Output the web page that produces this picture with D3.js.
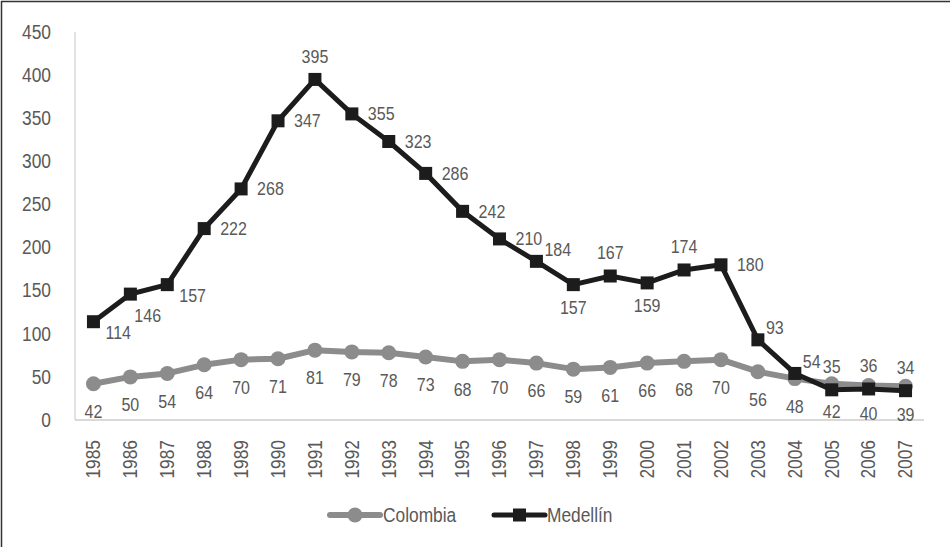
<!DOCTYPE html>
<html>
<head>
<meta charset="utf-8">
<script src="https://cdn.jsdelivr.net/npm/d3@7"></script>
<style>
  body { margin: 0; background: #fff; }
  text { font-family: "Liberation Sans", Arial, sans-serif; fill: #595959; }
</style>
</head>
<body>
<svg id="chart" width="950" height="547"></svg>
<script>
var years = ["1985","1986","1987","1988","1989","1990","1991","1992","1993","1994","1995","1996",
             "1997","1998","1999","2000","2001","2002","2003","2004","2005","2006","2007"];
var colombia = [42,50,54,64,70,71,81,79,78,73,68,70,66,59,61,66,68,70,56,48,42,40,39];
var medellin = [114,146,157,222,268,347,395,355,323,286,242,210,184,157,167,159,174,180,93,54,35,36,34];
// where each Medellín label sits relative to its point
var medLabelPos = ["rb","br","rb","r","r","r","t","r","r","r","r","r","tr","b","t","b","t","r","tr","tr","t","t","t"];
var yTicks = [0,50,100,150,200,250,300,350,400,450];
var seriesNames = ["Colombia", "Medellín"];

// the original font is a narrow one, squeeze the glyphs a bit
var squeeze = 0.89;
function narrow(sel, extra) {
  sel.each(function () {
    var t = d3.select(this);
    var xv = +t.attr("x") || 0;
    t.attr("x", xv / squeeze)
      .attr("transform", (extra || "") + " scale(" + squeeze + ",1)");
  });
}

var svg = d3.select("#chart");

// frame (only top and left edges show)
svg.append("line")
  .attr("x1", 1).attr("x2", 950).attr("y1", 1.5).attr("y2", 1.5)
  .attr("stroke", "#333").attr("stroke-width", 1.5);
svg.append("line")
  .attr("x1", 1.5).attr("x2", 1.5).attr("y1", 1).attr("y2", 547)
  .attr("stroke", "#333").attr("stroke-width", 1.5);

var plotLeft = 75, plotRight = 924, plotTop = 32, plotBottom = 420;

var x = d3.scaleBand().domain(years).range([plotLeft, plotRight]);
var y = d3.scaleLinear().domain([0, 450]).range([plotBottom, plotTop]);
var cx = function (d, i) { return x(years[i]) + x.bandwidth() / 2; };

// axes
var yAxis = d3.axisLeft(y).tickValues(yTicks).tickSize(0).tickPadding(24);
svg.append("g")
  .attr("class", "y axis")
  .attr("transform", "translate(" + plotLeft + ",0)")
  .call(yAxis)
  .call(function (g) { g.select(".domain").remove(); })
  .selectAll("text")
  .style("font-size", "19.5px")
  .attr("fill", "#595959")
  .call(narrow);

svg.append("line")
  .attr("x1", plotLeft).attr("x2", plotLeft)
  .attr("y1", plotTop).attr("y2", plotBottom)
  .attr("stroke", "#d9d9d9").attr("stroke-width", 1.5);

var xAxis = d3.axisBottom(x).tickSize(0);
svg.append("g")
  .attr("class", "x axis")
  .attr("transform", "translate(0," + plotBottom + ")")
  .call(xAxis)
  .call(function (g) { g.select(".domain").remove(); })
  .selectAll("text")
  .style("font-size", "19.5px")
  .attr("fill", "#595959")
  .style("text-anchor", "end")
  .attr("x", -20).attr("y", 0).attr("dy", "0.35em")
  .call(narrow, "rotate(-90)");

svg.append("line")
  .attr("x1", plotLeft).attr("x2", plotRight)
  .attr("y1", plotBottom).attr("y2", plotBottom)
  .attr("stroke", "#d9d9d9").attr("stroke-width", 2);

var line = d3.line()
  .x(function (d, i) { return cx(d, i); })
  .y(function (d) { return y(d); });

// Colombia
svg.append("path")
  .datum(colombia)
  .attr("d", line)
  .attr("fill", "none")
  .attr("stroke", "#8c8c8c")
  .attr("stroke-width", 6)
  .attr("stroke-linejoin", "round");

svg.selectAll("circle.col")
  .data(colombia).enter()
  .append("circle")
  .attr("class", "col")
  .attr("cx", cx)
  .attr("cy", function (d) { return y(d); })
  .attr("r", 7.5)
  .attr("fill", "#8c8c8c");

// Medellín
svg.append("path")
  .datum(medellin)
  .attr("d", line)
  .attr("fill", "none")
  .attr("stroke", "#1c1c1c")
  .attr("stroke-width", 5)
  .attr("stroke-linejoin", "miter");

var sq = 13;
svg.selectAll("rect.med")
  .data(medellin).enter()
  .append("rect")
  .attr("class", "med")
  .attr("x", function (d, i) { return cx(d, i) - sq / 2; })
  .attr("y", function (d) { return y(d) - sq / 2; })
  .attr("width", sq).attr("height", sq)
  .attr("fill", "#1c1c1c");

// data labels
svg.selectAll("text.collab")
  .data(colombia).enter()
  .append("text")
  .attr("class", "collab")
  .attr("x", cx)
  .attr("y", function (d) { return y(d) + 28; })
  .attr("dy", "0.35em")
  .attr("text-anchor", "middle")
  .style("font-size", "18px")
  .text(function (d) { return d; })
  .call(narrow);

var offsets = {
  r:  { dx: 16, dy: 0,   anchor: "start" },
  rb: { dx: 12, dy: 11,  anchor: "start" },
  br: { dx: 4,  dy: 22,  anchor: "start" },
  tr: { dx: 8,  dy: -12, anchor: "start" },
  t:  { dx: 0,  dy: -23, anchor: "middle" },
  b:  { dx: 0,  dy: 23,  anchor: "middle" }
};

svg.selectAll("text.medlab")
  .data(medellin).enter()
  .append("text")
  .attr("class", "medlab")
  .attr("x", function (d, i) { return cx(d, i) + offsets[medLabelPos[i]].dx; })
  .attr("y", function (d, i) { return y(d) + offsets[medLabelPos[i]].dy; })
  .attr("dy", "0.35em")
  .attr("text-anchor", function (d, i) { return offsets[medLabelPos[i]].anchor; })
  .style("font-size", "18px")
  .text(function (d) { return d; })
  .call(narrow);

// legend
var legY = 515;
var leg1 = svg.append("g").attr("transform", "translate(330," + legY + ")");
leg1.append("line").attr("x1", 0).attr("x2", 50)
  .attr("stroke", "#8c8c8c").attr("stroke-width", 6).attr("stroke-linecap", "round");
leg1.append("circle").attr("cx", 25).attr("r", 7.5).attr("fill", "#8c8c8c");
leg1.append("text").attr("x", 53).attr("dy", "0.35em")
  .style("font-size", "19.5px").text(seriesNames[0])
  .call(narrow);

var leg2 = svg.append("g").attr("transform", "translate(494," + legY + ")");
leg2.append("line").attr("x1", 0).attr("x2", 51)
  .attr("stroke", "#1c1c1c").attr("stroke-width", 5).attr("stroke-linecap", "round");
leg2.append("rect").attr("x", 25.5 - sq / 2).attr("y", -sq / 2)
  .attr("width", sq).attr("height", sq).attr("fill", "#1c1c1c");
leg2.append("text").attr("x", 53).attr("dy", "0.35em")
  .style("font-size", "19.5px").text(seriesNames[1])
  .call(narrow);
</script>
</body>
</html>
